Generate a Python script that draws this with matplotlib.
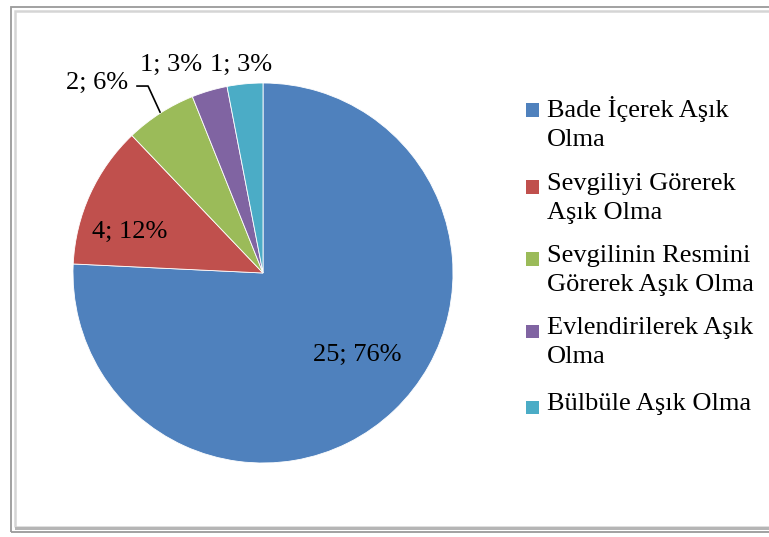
import matplotlib
matplotlib.use("Agg")
import matplotlib.pyplot as plt
from matplotlib.patches import Rectangle

categories = ["Bade İçerek Aşık Olma", "Sevgiliyi Görerek Aşık Olma",
              "Sevgilinin Resmini Görerek Aşık Olma", "Evlendirilerek Aşık Olma",
              "Bülbüle Aşık Olma"]
legend_lines = ["Bade İçerek Aşık\nOlma", "Sevgiliyi Görerek\nAşık Olma",
                "Sevgilinin Resmini\nGörerek Aşık Olma", "Evlendirilerek Aşık\nOlma",
                "Bülbüle Aşık Olma"]
values = [25, 4, 2, 1, 1]
colors = ["#4F81BD", "#C0504D", "#9BBB59", "#8064A2", "#4BACC6"]

W, H = 769, 537
plt.rcParams['font.family'] = ['Liberation Serif', 'DejaVu Serif']
fig = plt.figure(figsize=(W / 100, H / 100), dpi=100)

def px(x, y):
    return x / W, 1 - y / H

# frame
fig.patches.append(Rectangle(px(11, 532), (W + 20) / W, (532 - 7) / H, transform=fig.transFigure,
                             fill=False, edgecolor="#9a9a9a", lw=1.3))
fig.patches.append(Rectangle(px(15, 527), (W + 20) / W, (527 - 11) / H, transform=fig.transFigure,
                             fill=False, edgecolor="#d5d5d5", lw=1.8))
fig.patches.append(Rectangle(px(15, 530), (W + 20) / W, 3 / H, transform=fig.transFigure,
                             facecolor="#b5b5b5", edgecolor="none"))

cx, cy, r = 263, 273, 190
ax = fig.add_axes([(cx - r) / W, (H - cy - r) / H, 2 * r / W, 2 * r / H])
wedges, _ = ax.pie(values, colors=colors, startangle=90, counterclock=False,
                   wedgeprops=dict(edgecolor="white", linewidth=0.6))
ax.set_xlim(-1, 1)
ax.set_ylim(-1, 1)
ax.set_aspect("auto")
ax.axis("off")

FS = 19
total = sum(values)
labels = [f"{v}; {round(100 * v / total)}%" for v in values]
label_pos = [(0.495, -0.43), (-0.70, 0.215), (-0.874, 1.0), (-0.483, 1.095), (-0.116, 1.095)]
for lab, (x, y) in zip(labels, label_pos):
    ax.text(x, y, lab, ha="center", va="center", fontsize=FS, color="black")

# leader line for the 2; 6% label
ax.plot([-0.663, -0.605, -0.542], [0.984, 0.984, 0.847], color="black", lw=1.2, clip_on=False)

# legend
sq = 13
row_y = [110, 187, 259, 331, 407]
for lab, c, y in zip(legend_lines, colors, row_y):
    fig.patches.append(Rectangle(px(526, y + sq / 2), sq / W, sq / H, transform=fig.transFigure,
                                 facecolor=c, edgecolor="none"))
    fig.text(547 / W, 1 - (y - 14) / H, lab, ha="left", va="top", fontsize=FS,
             linespacing=1.42)

fig.savefig("out.png", dpi=100)
